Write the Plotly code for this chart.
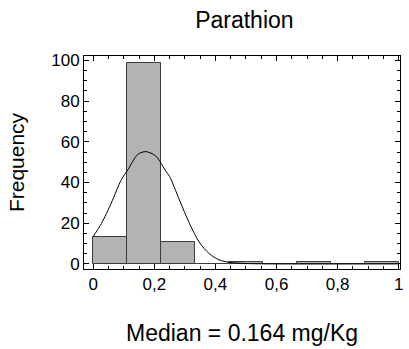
import plotly.graph_objects as go

# Histogram bins (width 1/9) and counts
bin_left = [0.0, 1/9, 2/9, 3/9, 4/9, 5/9, 6/9, 7/9, 8/9]
bin_width = 1/9
counts = [13, 99, 11, 0, 1, 0, 1, 0, 1]

# Fitted normal curve
curve_x = [0.0, 0.027, 0.059, 0.092, 0.114, 0.146, 0.173, 0.205, 0.238, 0.25,
           0.282, 0.315, 0.347, 0.38, 0.412, 0.445, 0.5, 0.6, 1.0]
curve_y = [13.5, 19.9, 29.9, 41.4, 46.4, 53.9, 55.2, 53.0, 45.5, 43.0,
           31.5, 19.9, 10.7, 5.0, 2.0, 0.8, 0.2, 0.0, 0.0]

title_text = "Parathion"
y_title = "Frequency"
note_text = "Median = 0.164 mg/Kg"

FONT = "Liberation Sans, Arial, sans-serif"

fig = go.Figure()
fig.add_trace(go.Bar(
    x=[b + bin_width / 2 for b in bin_left],
    y=counts,
    width=bin_width,
    marker=dict(color="#b3b3b3", line=dict(color="#3c3c3c", width=1)),
    showlegend=False,
))
fig.add_trace(go.Scatter(
    x=curve_x, y=curve_y, mode="lines",
    line=dict(color="black", width=1, shape="spline", smoothing=0.8),
    showlegend=False,
))

axis_common = dict(
    showline=True, linecolor="black", linewidth=1, mirror="allticks",
    ticks="inside", ticklen=5, tickcolor="black", tickwidth=1,
    showgrid=False, zeroline=False,
    tickfont=dict(family=FONT, size=17, color="black"),
)

fig.update_layout(
    width=409, height=349,
    margin=dict(l=84, r=6, t=56, b=80),
    paper_bgcolor="white", plot_bgcolor="white",
    separators=",.",
    bargap=0,
    font=dict(family=FONT, color="black"),
    title=dict(text=title_text, x=0.5975, xanchor="center", y=1 - 20/349, yanchor="middle",
               font=dict(family=FONT, size=23, color="black")),
    xaxis=dict(range=[-0.0302, 1.0042], tickmode="linear", tick0=0, dtick=0.2,
               minor=dict(ticks="inside", ticklen=3, dtick=0.05, tickcolor="black", showgrid=False),
               **axis_common),
    yaxis=dict(range=[-2.5, 102.2], tickmode="linear", tick0=0, dtick=20,
               minor=dict(ticks="inside", ticklen=3, dtick=5, tickcolor="black", showgrid=False),
               title=dict(text=y_title, font=dict(family=FONT, size=21, color="black"), standoff=20),
               **axis_common),
    annotations=[dict(
        text=note_text, xref="paper", yref="paper",
        x=0.5, xanchor="center", y=-(333 - 269) / 213, yanchor="middle",
        showarrow=False, font=dict(family=FONT, size=23, color="black"),
    )],
)

fig.write_html("out.html")
